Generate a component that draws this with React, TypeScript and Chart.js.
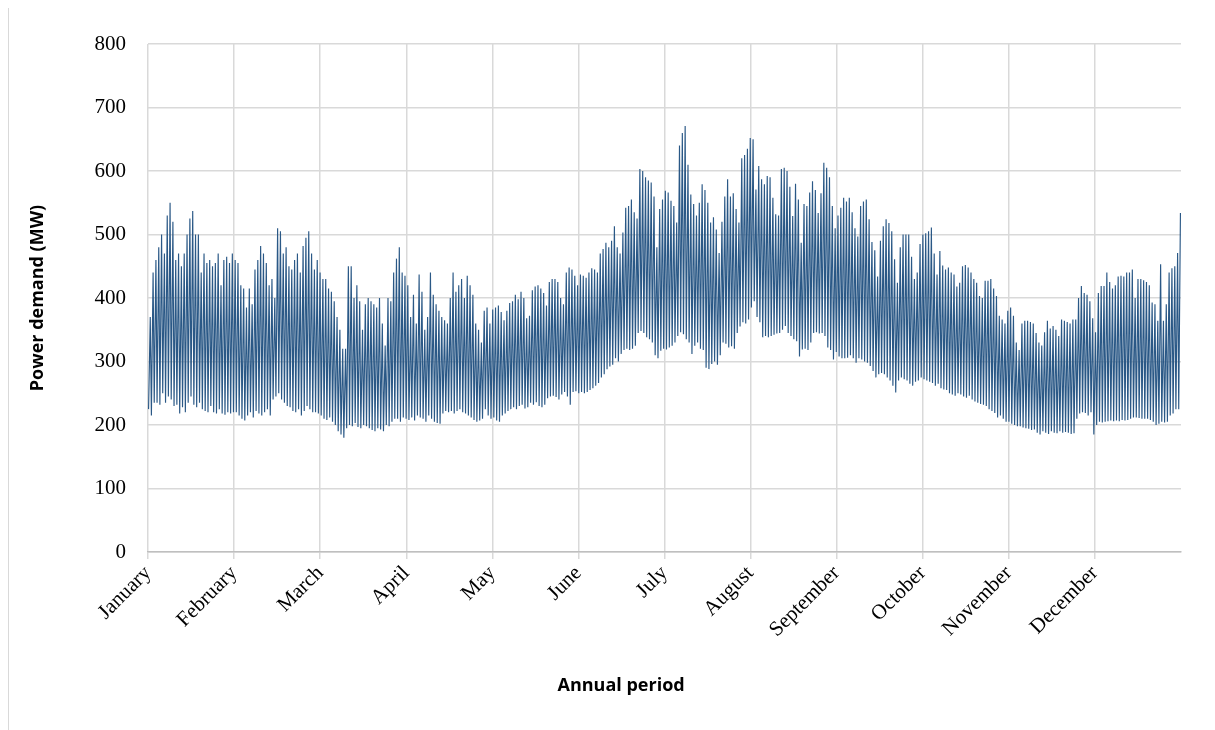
import React, { useEffect, useRef } from "react";
import { Chart, registerables } from "chart.js";

Chart.register(...registerables);

// Month labels along the time axis
const months = [
  "January", "February", "March", "April", "May", "June",
  "July", "August", "September", "October", "November", "December",
];

// Daily peak and trough demand (MW), one entry per day
const janHigh = [370, 440, 460, 480, 500, 470, 530, 550, 520, 460, 470, 450, 470, 500, 525, 537, 500, 500, 440, 470, 455, 460, 450, 455, 470, 420, 460, 465, 455, 470, 460];
const janLow = [225, 215, 235, 235, 232, 250, 235, 245, 240, 230, 232, 218, 228, 220, 235, 245, 232, 228, 235, 225, 222, 220, 230, 220, 218, 225, 218, 216, 220, 218, 220];

const febHigh = [455, 420, 415, 385, 415, 390, 445, 460, 482, 470, 455, 420, 430, 400, 510, 505, 470, 480, 450, 445, 460, 470, 440, 482, 495, 505, 470, 445];
const febLow = [220, 215, 210, 207, 215, 220, 212, 222, 218, 215, 220, 225, 215, 240, 245, 250, 240, 235, 230, 228, 222, 220, 225, 215, 222, 230, 225, 220];

const marHigh = [460, 440, 430, 430, 415, 410, 395, 370, 350, 320, 320, 450, 450, 400, 420, 395, 350, 390, 400, 395, 390, 385, 400, 360, 325, 400, 395, 440, 462, 480, 440];
const marLow = [220, 218, 215, 210, 208, 212, 205, 200, 190, 185, 180, 195, 200, 198, 203, 197, 195, 200, 198, 195, 192, 190, 195, 193, 190, 200, 198, 205, 210, 210, 205];

const aprHigh = [435, 420, 370, 405, 360, 437, 410, 350, 370, 440, 405, 390, 380, 370, 365, 360, 400, 440, 410, 420, 430, 400, 435, 420, 405, 360, 350, 330, 380, 385];
const aprLow = [212, 210, 208, 212, 207, 215, 212, 210, 205, 215, 210, 205, 203, 202, 218, 222, 220, 222, 218, 222, 225, 220, 218, 215, 212, 208, 205, 207, 210, 225];

const mayHigh = [360, 382, 385, 388, 378, 365, 380, 392, 395, 405, 398, 410, 400, 368, 372, 412, 418, 420, 415, 408, 388, 425, 430, 430, 425, 400, 390, 440, 448, 445, 435];
const mayLow = [215, 210, 212, 207, 205, 215, 218, 222, 225, 228, 225, 230, 232, 226, 228, 235, 232, 236, 230, 228, 232, 242, 245, 246, 244, 240, 248, 252, 245, 232, 252];

const junHigh = [420, 437, 435, 432, 440, 447, 445, 440, 470, 477, 487, 480, 490, 513, 480, 470, 503, 542, 545, 555, 535, 525, 603, 600, 590, 585, 582, 560, 480, 540];
const junLow = [253, 250, 252, 250, 252, 255, 258, 262, 266, 275, 280, 288, 292, 295, 305, 300, 312, 318, 320, 318, 320, 325, 345, 348, 345, 338, 335, 330, 310, 305];

const julHigh = [555, 569, 566, 553, 545, 519, 640, 660, 671, 610, 563, 548, 530, 550, 579, 570, 550, 519, 527, 508, 471, 520, 560, 587, 560, 565, 540, 519, 620, 625, 635];
const julLow = [317, 320, 319, 322, 325, 330, 340, 346, 343, 335, 330, 312, 325, 330, 320, 318, 290, 288, 296, 300, 295, 310, 330, 328, 322, 324, 320, 345, 355, 362, 360];

const augHigh = [652, 650, 571, 608, 587, 579, 592, 590, 558, 532, 530, 603, 605, 600, 575, 529, 580, 555, 487, 548, 545, 566, 584, 570, 534, 565, 613, 605, 590, 545, 510];
const augLow = [366, 385, 395, 370, 362, 338, 340, 338, 340, 342, 344, 345, 350, 356, 345, 340, 335, 332, 308, 319, 320, 318, 330, 345, 346, 344, 345, 340, 322, 318, 303];

const sepHigh = [530, 542, 558, 552, 558, 535, 510, 497, 545, 552, 555, 524, 488, 475, 434, 490, 513, 524, 518, 505, 461, 424, 480, 500, 500, 500, 465, 430, 440, 485];
const sepLow = [315, 308, 305, 305, 306, 310, 305, 298, 305, 303, 300, 298, 293, 285, 275, 280, 282, 280, 275, 270, 262, 251, 270, 275, 272, 270, 265, 262, 268, 270];

const octHigh = [500, 502, 505, 511, 470, 437, 474, 451, 445, 448, 440, 437, 418, 424, 450, 452, 448, 440, 430, 424, 403, 400, 427, 427, 430, 415, 403, 372, 366, 360, 380];
const octLow = [275, 272, 270, 268, 266, 262, 265, 258, 256, 255, 250, 248, 246, 250, 248, 245, 243, 246, 240, 237, 235, 233, 232, 230, 225, 222, 219, 212, 215, 210, 205];

const novHigh = [385, 372, 330, 318, 360, 364, 364, 362, 360, 345, 330, 325, 346, 364, 352, 356, 350, 340, 366, 364, 362, 360, 366, 366, 400, 419, 408, 405, 395, 368];
const novLow = [205, 202, 200, 198, 198, 196, 195, 194, 192, 193, 188, 185, 190, 188, 186, 190, 188, 187, 190, 188, 189, 188, 186, 187, 210, 218, 220, 219, 215, 220];

const decHigh = [346, 408, 419, 419, 440, 425, 415, 420, 434, 435, 434, 440, 440, 445, 400, 430, 430, 428, 425, 420, 393, 390, 364, 453, 364, 390, 440, 447, 450, 471, 534];
const decLow = [185, 200, 205, 204, 205, 206, 207, 206, 207, 206, 208, 207, 208, 210, 212, 212, 211, 210, 210, 210, 208, 205, 200, 202, 205, 204, 205, 215, 218, 225, 225];

const dailyHigh = [
  ...janHigh, ...febHigh, ...marHigh, ...aprHigh, ...mayHigh, ...junHigh,
  ...julHigh, ...augHigh, ...sepHigh, ...octHigh, ...novHigh, ...decHigh,
];
const dailyLow = [
  ...janLow, ...febLow, ...marLow, ...aprLow, ...mayLow, ...junLow,
  ...julLow, ...augLow, ...sepLow, ...octLow, ...novLow, ...decLow,
];

const yMin = 0;
const yMax = 800;
const yStep = 100;

const yTitle = "Power demand (MW)";
const xTitle = "Annual period";

// Each day drawn as a night trough followed by an evening peak
function buildPoints() {
  const pts: { x: number; y: number }[] = [];
  for (let i = 0; i < dailyHigh.length; i++) {
    pts.push({ x: i + 0.2, y: dailyLow[i] });
    pts.push({ x: i + 0.8, y: dailyHigh[i] });
  }
  return pts;
}

const axisTitles = {
  id: "axisTitles",
  afterDraw(chart: any) {
    const { ctx, chartArea } = chart;
    ctx.save();
    ctx.fillStyle = "#000";
    ctx.font = "bold 18px 'Open Sans', sans-serif";
    ctx.textAlign = "center";
    ctx.textBaseline = "middle";
    ctx.fillText(xTitle, chartArea.left + (chartArea.right - chartArea.left) * 0.458, chartArea.bottom + 134);
    ctx.translate(29, (chartArea.top + chartArea.bottom) / 2);
    ctx.rotate(-Math.PI / 2);
    ctx.fillText(yTitle, 0, 0);
    ctx.restore();
  },
};

export default function App() {
  const ref = useRef<HTMLCanvasElement | null>(null);

  useEffect(() => {
    if (!ref.current) return;
    const days = dailyHigh.length;
    const chart = new Chart(ref.current, {
      type: "line",
      data: {
        datasets: [
          {
            data: buildPoints(),
            borderColor: "#2a5886",
            borderWidth: 1.15,
            pointRadius: 0,
            tension: 0,
            fill: false,
          },
        ],
      },
      options: {
        animation: false,
        responsive: false,
        maintainAspectRatio: false,
        layout: { padding: { top: 35, right: 33, left: 0, bottom: 0 } },
        plugins: { legend: { display: false }, tooltip: { enabled: false } },
        scales: {
          x: {
            type: "linear",
            min: 0,
            max: days,
            afterBuildTicks: (scale: any) => {
              scale.ticks = months.map((_, i) => ({ value: (i * days) / months.length }));
            },
            afterFit: (scale: any) => {
              scale.height = 169;
            },
            ticks: {
              autoSkip: false,
              maxRotation: 45,
              minRotation: 45,
              color: "#000",
              padding: 2,
              font: { family: "'Liberation Serif', serif", size: 21 },
              callback: (_v: any, i: number) => months[i],
            },
            grid: { color: "#d9d9d9", lineWidth: 1.5, tickLength: 7, drawTicks: true },
            border: { color: "#bfbfbf", width: 1.5 },
          },
          y: {
            min: yMin,
            max: yMax,
            afterFit: (scale: any) => {
              scale.width = 139;
            },
            ticks: {
              stepSize: yStep,
              color: "#000",
              padding: 22,
              font: { family: "'Liberation Serif', serif", size: 21 },
            },
            grid: { color: "#d9d9d9", lineWidth: 1.5, drawTicks: false },
            border: { display: false },
          },
        },
      },
      plugins: [axisTitles],
    });
    return () => chart.destroy();
  }, []);

  return (
    <div style={{ width: 1206, height: 730, borderTop: "1px solid #d9d9d9", borderLeft: "1px solid #d9d9d9", marginTop: -3 }}>
      <canvas ref={ref} width={1205} height={712} style={{ display: "block", marginTop: 3 }} />
    </div>
  );
}
